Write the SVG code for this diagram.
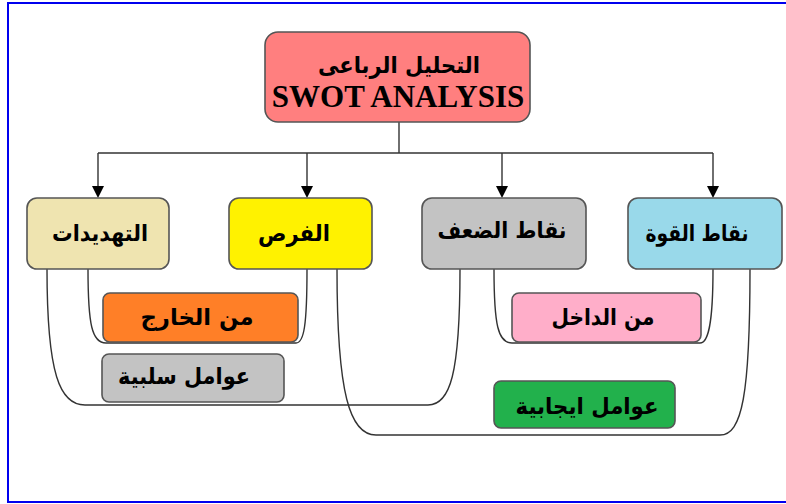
<svg xmlns="http://www.w3.org/2000/svg" width="786" height="504" viewBox="0 0 786 504">
<defs>
<style>
.box{stroke:#555;stroke-width:1.6}
.ar{font-family:"DejaVu Sans","Noto Sans",sans-serif;font-weight:bold;font-size:23px;fill:#000;text-anchor:middle}
.en{font-family:"Liberation Serif","Times New Roman",serif;font-weight:bold;font-size:31px;fill:#000;text-anchor:middle}
.ln{fill:none;stroke:#333;stroke-width:1.4}
</style>
</defs>
<rect x="0" y="0" width="786" height="504" fill="#fff"/>
<rect x="8" y="3" width="800" height="499" fill="none" stroke="#0000ee" stroke-width="2"/>

<g id="connectors">
<path class="ln" d="M399,122 V153"/>
<path class="ln" d="M98,153 H713"/>
<path class="ln" d="M98,153 V186"/>
<path class="ln" d="M307,153 V186"/>
<path class="ln" d="M502,153 V186"/>
<path class="ln" d="M713,153 V186"/>
<path d="M92,186 H104 L98,198 Z"/>
<path d="M301,186 H313 L307,198 Z"/>
<path d="M496,186 H508 L502,198 Z"/>
<path d="M707,186 H719 L713,198 Z"/>
<path class="ln" d="M88,269 C88,325 92,343 106,343 H296 C304,343 307,325 307,269"/>
<path class="ln" d="M47,269 C47,375 60,405 85,405 H428 C450,405 460,375 460,269"/>
<path class="ln" d="M494,269 C494,325 498,343 512,343 H700 C708,343 713,325 713,269"/>
<path class="ln" d="M337,269 C337,395 350,435 376,435 H720 C742,435 750,395 750,269"/>
</g>

<g id="title">
<rect class="box" x="265" y="32" width="265" height="90" rx="13" fill="#ff7f7f"/>
<text class="ar" x="399" y="73" font-size="26" textLength="162" lengthAdjust="spacingAndGlyphs">التحليل الرباعى</text>
<text class="en" x="398" y="107">SWOT ANALYSIS</text>
</g>
<g id="threats">
<rect class="box" x="27" y="198" width="142" height="71" rx="10" fill="#efe4b0"/>
<text class="ar" x="100" y="241" textLength="96" lengthAdjust="spacingAndGlyphs">التهديدات</text>
</g>
<g id="opportunities">
<rect class="box" x="229" y="198" width="143" height="71" rx="10" fill="#fff200"/>
<text class="ar" x="294" y="241" textLength="72" lengthAdjust="spacingAndGlyphs">الفرص</text>
</g>
<g id="weaknesses">
<rect class="box" x="422" y="198" width="164" height="71" rx="10" fill="#c3c3c3"/>
<text class="ar" x="502" y="238" textLength="129" lengthAdjust="spacingAndGlyphs">نقاط الضعف</text>
</g>
<g id="strengths">
<rect class="box" x="628" y="198" width="154" height="71" rx="10" fill="#99d9ea"/>
<text class="ar" x="697" y="241" textLength="103" lengthAdjust="spacingAndGlyphs">نقاط القوة</text>
</g>
<g id="external">
<rect class="box" x="103" y="293" width="195" height="49" rx="7" fill="#ff7f27"/>
<text class="ar" x="197" y="325" textLength="113" lengthAdjust="spacingAndGlyphs">من الخارج</text>
</g>
<g id="negative">
<rect class="box" x="102" y="354" width="182" height="48" rx="7" fill="#c3c3c3"/>
<text class="ar" x="184" y="384" textLength="132" lengthAdjust="spacingAndGlyphs">عوامل سلبية</text>
</g>
<g id="internal">
<rect class="box" x="512" y="293" width="189" height="49" rx="7" fill="#ffaec9"/>
<text class="ar" x="603" y="325" textLength="103" lengthAdjust="spacingAndGlyphs">من الداخل</text>
</g>
<g id="positive">
<rect class="box" x="494" y="381" width="181" height="47" rx="7" fill="#22b14c"/>
<text class="ar" x="587" y="414" textLength="143" lengthAdjust="spacingAndGlyphs">عوامل ايجابية</text>
</g>
</svg>
